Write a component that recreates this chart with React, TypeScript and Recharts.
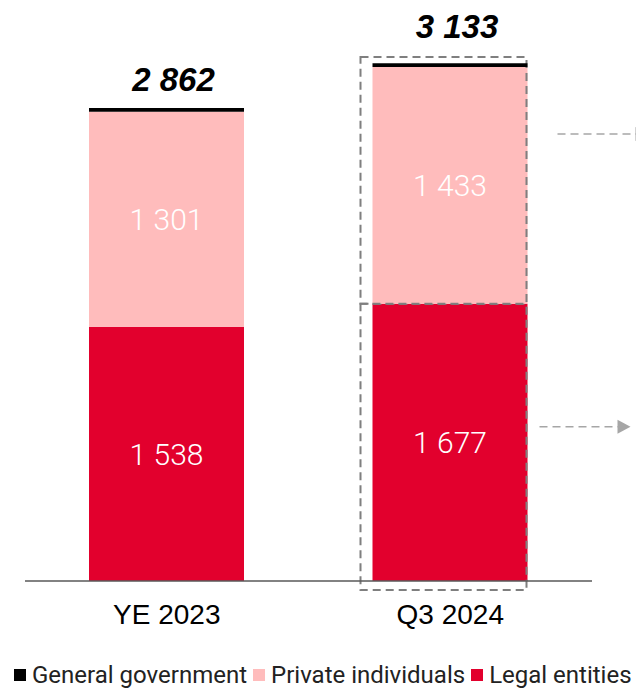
import React from "react";
import { BarChart, Bar, XAxis, YAxis, LabelList, Legend, Rectangle } from "recharts";

const categories = ["YE 2023", "Q3 2024"];
const legalEntities = [1538, 1677];
const privateIndividuals = [1301, 1433];
const generalGovernment = [23, 23];

const seriesNames = ["General government", "Private individuals", "Legal entities"];
const seriesColors = ["#000000", "#ffbcbc", "#e2002d"];

const data = categories.map((name, i) => ({
  name,
  legal: legalEntities[i],
  priv: privateIndividuals[i],
  gov: generalGovernment[i],
  total: legalEntities[i] + privateIndividuals[i] + generalGovernment[i],
}));

const fmt = (v: number) => String(v).replace(/\B(?=(\d{3})+(?!\d))/g, " ");

const HIGHLIGHT = 1;

function Arrow({ x1, x2, y }: { x1: number; x2: number; y: number }) {
  return (
    <g>
      <line x1={x1} x2={x2 - 12} y1={y} y2={y} stroke="#a6a6a6" strokeWidth={1.5} strokeDasharray="8 5" />
      <polygon points={`${x2 - 13},${y - 7} ${x2},${y} ${x2 - 13},${y + 7}`} fill="#a6a6a6" />
    </g>
  );
}

function PrivShape(props: any) {
  const { x, y, width, height, fill, index } = props;
  return (
    <g>
      <Rectangle x={x} y={y} width={width} height={height} fill={fill} />
      {index === HIGHLIGHT && (
        <g>
          <rect x={x - 12} y={y - 10} width={width + 11} height={height + 10} fill="none" stroke="#7f7f7f" strokeWidth={2} strokeDasharray="8 5" />
          <Arrow x1={x + width + 30} x2={x + width + 121} y={y + 67} />
        </g>
      )}
    </g>
  );
}

function LegalShape(props: any) {
  const { x, y, width, height, fill, index } = props;
  return (
    <g>
      <Rectangle x={x} y={y} width={width} height={height} fill={fill} />
      {index === HIGHLIGHT && (
        <g>
          <rect x={x - 12} y={y} width={width + 11} height={height + 9} fill="none" stroke="#7f7f7f" strokeWidth={2} strokeDasharray="8 5" />
          <Arrow x1={x + width + 12} x2={x + width + 103} y={y + 123} />
        </g>
      )}
    </g>
  );
}

function TotalLabel(props: any) {
  const { x, y, width, index } = props;
  const off = index === HIGHLIGHT ? 37 : 28;
  return (
    <text
      x={x + width / 2 + 7}
      y={y - off}
      textAnchor="middle"
      dominantBaseline="central"
      fontFamily="'Liberation Sans', Arial, sans-serif"
      fontWeight="bold"
      fontStyle="italic"
      fontSize={33}
      fill="#000"
    >
      {fmt(data[index].total)}
    </text>
  );
}

function LegendContent() {
  return (
    <div style={{ display: "flex", alignItems: "center", height: 30, fontFamily: "Roboto, sans-serif", fontSize: 24, color: "#222", whiteSpace: "nowrap" }}>
      {seriesNames.map((n, i) => (
        <span key={n} style={{ display: "flex", alignItems: "center", marginRight: 6 }}>
          <span style={{ width: 12, height: 12, background: seriesColors[i], marginRight: 6, display: "inline-block" }} />
          {n}
        </span>
      ))}
    </div>
  );
}

export default function App() {
  return (
    <div style={{ position: "absolute", left: 0, top: 0, width: 636, height: 690, background: "#fff", overflow: "hidden" }}>
      <BarChart width={636} height={690} data={data} margin={{ top: 19, right: 44, left: 25, bottom: 79 }}>
        <XAxis
          dataKey="name"
          axisLine={{ stroke: "#595959", strokeWidth: 1.5 }}
          tickLine={false}
          tickSize={0}
          tickMargin={23}
          tick={{ fill: "#000", fontSize: 28, fontFamily: "'Liberation Sans', Arial, sans-serif" }}
        />
        <YAxis hide domain={[0, 3400]} />
        <Legend
          layout="horizontal"
          verticalAlign="middle"
          align="center"
          wrapperStyle={{ top: 660, left: 14, width: "auto" }}
          content={<LegendContent />}
        />
        <Bar dataKey="legal" stackId="a" fill={seriesColors[2]} barSize={155} shape={<LegalShape />} isAnimationActive={false}>
          <LabelList dataKey="legal" position="center" formatter={(v: any) => fmt(v)} fill="#fff" fontSize={30} fontWeight={300} fontFamily="Roboto, sans-serif" />
        </Bar>
        <Bar dataKey="priv" stackId="a" fill={seriesColors[1]} barSize={155} shape={<PrivShape />} isAnimationActive={false}>
          <LabelList dataKey="priv" position="center" formatter={(v: any) => fmt(v)} fill="#fff" fontSize={30} fontWeight={300} fontFamily="Roboto, sans-serif" />
        </Bar>
        <Bar dataKey="gov" stackId="a" fill={seriesColors[0]} barSize={155} isAnimationActive={false}>
          <LabelList dataKey="gov" content={<TotalLabel />} />
        </Bar>
      </BarChart>
    </div>
  );
}
